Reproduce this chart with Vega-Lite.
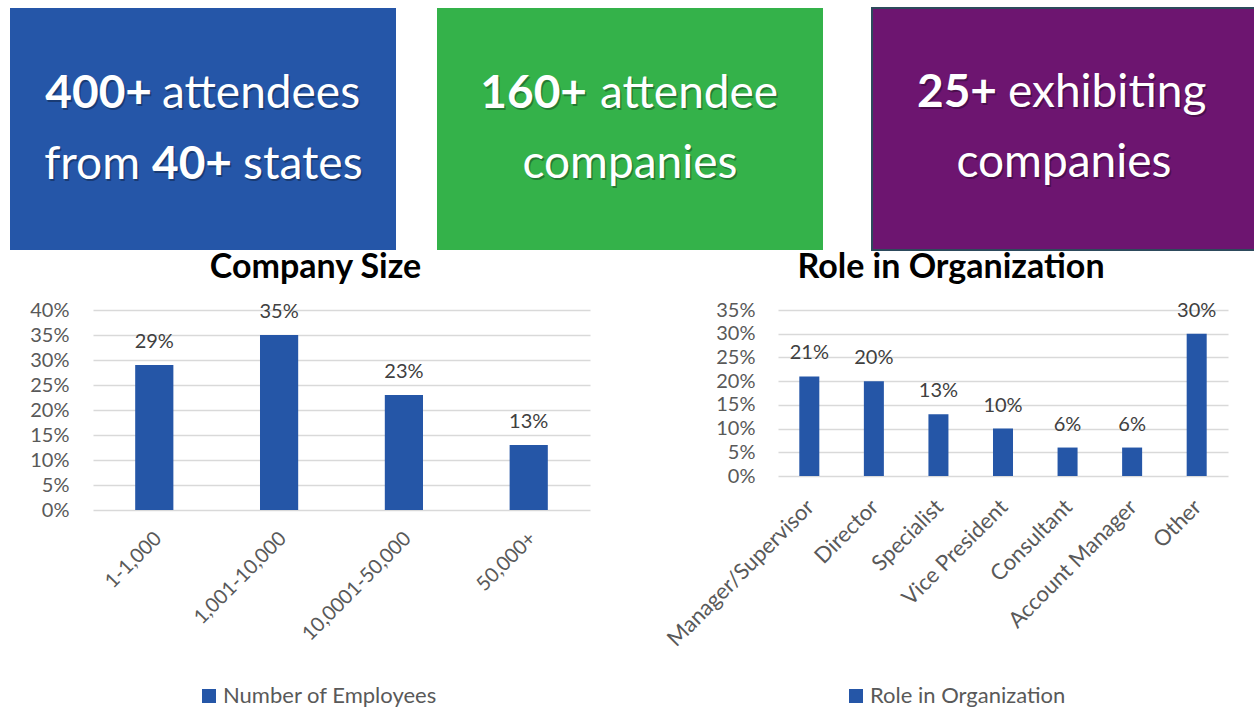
{
  "$schema": "https://vega.github.io/schema/vega-lite/v6.json",
  "background": "white",
  "padding": {"left": 10, "top": 7, "right": 0, "bottom": 0},
  "config": {
    "font": "Lato",
    "view": {"stroke": null},
    "axis": {"labelFont": "Lato", "labelColor": "#595959", "labelFontSize": 20, "title": null, "domain": false, "ticks": false, "tickSize": 0, "labelLimit": 0},
    "legend": {"labelFont": "Lato"}
  },
  "datasets": {
    "headlines": [
      {"id": "b1a", "text": "400+"},
      {"id": "b1b", "text": "attendees"},
      {"id": "b2a", "text": "from"},
      {"id": "b2b", "text": "40+"},
      {"id": "b2c", "text": "states"},
      {"id": "g1a", "text": "160+"},
      {"id": "g1b", "text": "attendee"},
      {"id": "g2", "text": "companies"},
      {"id": "p1a", "text": "25+"},
      {"id": "p1b", "text": "exhibiting"},
      {"id": "p2", "text": "companies"}
    ],
    "company": [
      {"size": "1-1,000", "pct": 0.29},
      {"size": "1,001-10,000", "pct": 0.35},
      {"size": "10,0001-50,000", "pct": 0.23},
      {"size": "50,000+", "pct": 0.13}
    ],
    "role": [
      {"role": "Manager/Supervisor", "pct": 0.21},
      {"role": "Director", "pct": 0.20},
      {"role": "Specialist", "pct": 0.13},
      {"role": "Vice President", "pct": 0.10},
      {"role": "Consultant", "pct": 0.06},
      {"role": "Account Manager", "pct": 0.06},
      {"role": "Other", "pct": 0.30}
    ]
  },
  "spacing": 0,
  "vconcat": [
    {
      "spacing": 48,
      "hconcat": [
        {
          "spacing": 41,
          "hconcat": [
            {
              "width": 386, "height": 242,
              "view": {"fill": "#2556A8", "stroke": null},
              "data": {"name": "headlines"},
              "layer": [
                {"transform": [{"filter": "datum.id === 'b1a'"}], "mark": {"type": "text", "x": 142, "y": 100, "align": "right", "baseline": "alphabetic", "fontSize": 46, "fontWeight": "bold", "color": "black", "opacity": 0.3, "dx": 1.5, "dy": 2}, "encoding": {"text": {"field": "text"}}},
                {"transform": [{"filter": "datum.id === 'b1b'"}], "mark": {"type": "text", "x": 152, "y": 100, "align": "left", "baseline": "alphabetic", "fontSize": 46, "color": "black", "opacity": 0.3, "dx": 1.5, "dy": 2}, "encoding": {"text": {"field": "text"}}},
                {"transform": [{"filter": "datum.id === 'b2a'"}], "mark": {"type": "text", "x": 130, "y": 171, "align": "right", "baseline": "alphabetic", "fontSize": 46, "color": "black", "opacity": 0.3, "dx": 1.5, "dy": 2}, "encoding": {"text": {"field": "text"}}},
                {"transform": [{"filter": "datum.id === 'b2b'"}], "mark": {"type": "text", "x": 182, "y": 171, "align": "center", "baseline": "alphabetic", "fontSize": 46, "fontWeight": "bold", "color": "black", "opacity": 0.3, "dx": 1.5, "dy": 2}, "encoding": {"text": {"field": "text"}}},
                {"transform": [{"filter": "datum.id === 'b2c'"}], "mark": {"type": "text", "x": 233, "y": 171, "align": "left", "baseline": "alphabetic", "fontSize": 46, "color": "black", "opacity": 0.3, "dx": 1.5, "dy": 2}, "encoding": {"text": {"field": "text"}}},
                {"transform": [{"filter": "datum.id === 'b1a'"}], "mark": {"type": "text", "x": 142, "y": 100, "align": "right", "baseline": "alphabetic", "fontSize": 46, "fontWeight": "bold", "color": "white"}, "encoding": {"text": {"field": "text"}}},
                {"transform": [{"filter": "datum.id === 'b1b'"}], "mark": {"type": "text", "x": 152, "y": 100, "align": "left", "baseline": "alphabetic", "fontSize": 46, "color": "white"}, "encoding": {"text": {"field": "text"}}},
                {"transform": [{"filter": "datum.id === 'b2a'"}], "mark": {"type": "text", "x": 130, "y": 171, "align": "right", "baseline": "alphabetic", "fontSize": 46, "color": "white"}, "encoding": {"text": {"field": "text"}}},
                {"transform": [{"filter": "datum.id === 'b2b'"}], "mark": {"type": "text", "x": 182, "y": 171, "align": "center", "baseline": "alphabetic", "fontSize": 46, "fontWeight": "bold", "color": "white"}, "encoding": {"text": {"field": "text"}}},
                {"transform": [{"filter": "datum.id === 'b2c'"}], "mark": {"type": "text", "x": 233, "y": 171, "align": "left", "baseline": "alphabetic", "fontSize": 46, "color": "white"}, "encoding": {"text": {"field": "text"}}}
              ]
            },
            {
              "width": 386, "height": 242,
              "view": {"fill": "#34B24A", "stroke": null},
              "data": {"name": "headlines"},
              "layer": [
                {"transform": [{"filter": "datum.id === 'g1a'"}], "mark": {"type": "text", "x": 150, "y": 100, "align": "right", "baseline": "alphabetic", "fontSize": 46, "fontWeight": "bold", "color": "black", "opacity": 0.3, "dx": 1.5, "dy": 2}, "encoding": {"text": {"field": "text"}}},
                {"transform": [{"filter": "datum.id === 'g1b'"}], "mark": {"type": "text", "x": 163, "y": 100, "align": "left", "baseline": "alphabetic", "fontSize": 46, "color": "black", "opacity": 0.3, "dx": 1.5, "dy": 2}, "encoding": {"text": {"field": "text"}}},
                {"transform": [{"filter": "datum.id === 'g2'"}], "mark": {"type": "text", "x": 193, "y": 170, "align": "center", "baseline": "alphabetic", "fontSize": 46, "color": "black", "opacity": 0.3, "dx": 1.5, "dy": 2}, "encoding": {"text": {"field": "text"}}},
                {"transform": [{"filter": "datum.id === 'g1a'"}], "mark": {"type": "text", "x": 150, "y": 100, "align": "right", "baseline": "alphabetic", "fontSize": 46, "fontWeight": "bold", "color": "white"}, "encoding": {"text": {"field": "text"}}},
                {"transform": [{"filter": "datum.id === 'g1b'"}], "mark": {"type": "text", "x": 163, "y": 100, "align": "left", "baseline": "alphabetic", "fontSize": 46, "color": "white"}, "encoding": {"text": {"field": "text"}}},
                {"transform": [{"filter": "datum.id === 'g2'"}], "mark": {"type": "text", "x": 193, "y": 170, "align": "center", "baseline": "alphabetic", "fontSize": 46, "color": "white"}, "encoding": {"text": {"field": "text"}}}
              ]
            }
          ]
        },
        {
          "width": 383, "height": 242,
          "view": {"fill": "#6D1570", "stroke": "#2D4A5C", "strokeWidth": 2},
          "data": {"name": "headlines"},
          "layer": [
            {"transform": [{"filter": "datum.id === 'p1a'"}], "mark": {"type": "text", "x": 125, "y": 99, "align": "right", "baseline": "alphabetic", "fontSize": 46, "fontWeight": "bold", "color": "black", "opacity": 0.3, "dx": 1.5, "dy": 2}, "encoding": {"text": {"field": "text"}}},
            {"transform": [{"filter": "datum.id === 'p1b'"}], "mark": {"type": "text", "x": 136, "y": 99, "align": "left", "baseline": "alphabetic", "fontSize": 46, "color": "black", "opacity": 0.3, "dx": 1.5, "dy": 2}, "encoding": {"text": {"field": "text"}}},
            {"transform": [{"filter": "datum.id === 'p2'"}], "mark": {"type": "text", "x": 192, "y": 169, "align": "center", "baseline": "alphabetic", "fontSize": 46, "color": "black", "opacity": 0.3, "dx": 1.5, "dy": 2}, "encoding": {"text": {"field": "text"}}},
            {"transform": [{"filter": "datum.id === 'p1a'"}], "mark": {"type": "text", "x": 125, "y": 99, "align": "right", "baseline": "alphabetic", "fontSize": 46, "fontWeight": "bold", "color": "white"}, "encoding": {"text": {"field": "text"}}},
            {"transform": [{"filter": "datum.id === 'p1b'"}], "mark": {"type": "text", "x": 136, "y": 99, "align": "left", "baseline": "alphabetic", "fontSize": 46, "color": "white"}, "encoding": {"text": {"field": "text"}}},
            {"transform": [{"filter": "datum.id === 'p2'"}], "mark": {"type": "text", "x": 192, "y": 169, "align": "center", "baseline": "alphabetic", "fontSize": 46, "color": "white"}, "encoding": {"text": {"field": "text"}}}
          ]
        }
      ]
    },
    {
      "spacing": 0,
      "hconcat": [
        {
          "width": 1, "height": 1,
          "data": {"values": [{"blank": ""}]},
          "mark": {"type": "text", "opacity": 0},
          "encoding": {"text": {"field": "blank"}}
        },
        {
          "spacing": 68,
          "resolve": {"scale": {"color": "independent"}, "legend": {"color": "independent"}},
          "hconcat": [
            {
              "width": 497, "height": 200,
              "title": {"text": "Company Size", "fontSize": 34, "fontWeight": "bold", "color": "#000000", "anchor": "middle", "frame": "group", "dx": -26, "offset": 15},
              "data": {"name": "company"},
              "encoding": {
                "x": {"field": "size", "type": "nominal", "sort": null, "scale": {"paddingInner": 0.694, "paddingOuter": 0.338}, "axis": {"labelAngle": -45, "labelPadding": 18, "labelOffset": -3, "grid": false}},
                "y": {"field": "pct", "type": "quantitative", "scale": {"domain": [0, 0.4]}, "axis": {"values": [0, 0.05, 0.1, 0.15, 0.2, 0.25, 0.3, 0.35, 0.4], "format": ".0%", "grid": true, "gridColor": "#D9D9D9", "gridWidth": 1.5, "labelPadding": 24, "minExtent": 82, "maxExtent": 82}}
              },
              "layer": [
                {"mark": {"type": "bar"}, "encoding": {"color": {"datum": "Number of Employees", "scale": {"range": ["#2556A7"]}, "legend": {"title": null, "orient": "none", "legendX": 105, "legendY": 375, "symbolType": "square", "symbolSize": 196, "symbolStrokeWidth": 0, "labelFontSize": 22, "labelColor": "#595959", "labelOffset": 3, "labelLimit": 0, "padding": 0}}}},
                {"mark": {"type": "text", "baseline": "alphabetic", "dy": -17, "fontSize": 20, "color": "#404040"}, "encoding": {"text": {"field": "pct", "type": "quantitative", "format": ".0%"}}}
              ]
            },
            {
              "width": 450, "height": 166,
              "title": {"text": "Role in Organization", "fontSize": 34, "fontWeight": "bold", "color": "#000000", "anchor": "middle", "frame": "group", "dx": -52, "offset": 15},
              "data": {"name": "role"},
              "encoding": {
                "x": {"field": "role", "type": "nominal", "sort": null, "scale": {"paddingInner": 0.69, "paddingOuter": 0.33}, "axis": {"labelAngle": -45, "labelPadding": 20, "labelOffset": -6, "labelFontSize": 22, "grid": false}},
                "y": {"field": "pct", "type": "quantitative", "scale": {"domain": [0, 0.35]}, "axis": {"values": [0, 0.05, 0.1, 0.15, 0.2, 0.25, 0.3, 0.35], "format": ".0%", "grid": true, "gridColor": "#D9D9D9", "gridWidth": 1.5, "labelPadding": 23, "minExtent": 120, "maxExtent": 120}}
              },
              "layer": [
                {"mark": {"type": "bar"}, "encoding": {"color": {"datum": "Role in Organization", "scale": {"range": ["#2556A7"]}, "legend": {"title": null, "orient": "none", "legendX": 67, "legendY": 375, "symbolType": "square", "symbolSize": 196, "symbolStrokeWidth": 0, "labelFontSize": 22, "labelColor": "#595959", "labelOffset": 3, "labelLimit": 0, "padding": 0}}}},
                {"mark": {"type": "text", "baseline": "alphabetic", "dy": -17, "fontSize": 20, "color": "#404040"}, "encoding": {"text": {"field": "pct", "type": "quantitative", "format": ".0%"}}}
              ]
            }
          ]
        }
      ]
    }
  ]
}
